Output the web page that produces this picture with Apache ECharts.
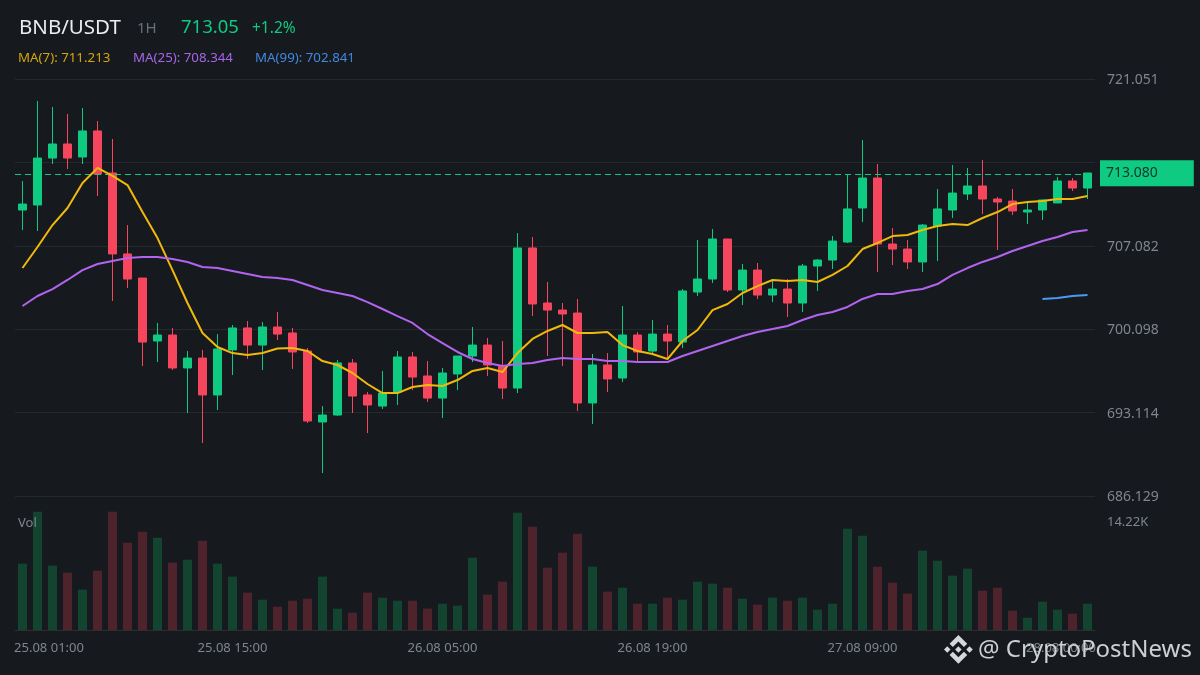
<!DOCTYPE html>
<html>
<head>
<meta charset="utf-8">
<style>html,body{margin:0;padding:0;background:#161a1e}#c{width:1200px;height:675px}</style>
<script src="https://cdn.jsdelivr.net/npm/echarts@6/dist/echarts.min.js"></script>
</head>
<body>
<div id="c"></div>
<script>
const xLabelsShown = {0:'25.08 01:00',14:'25.08 15:00',28:'26.08 05:00',42:'26.08 19:00',56:'27.08 09:00',70:'28.08 00:00'};
const priceTicks = [686.129,693.114,700.098,707.082,714.067,721.051];
const priceLabels = [686.129,693.114,700.098,707.082,721.051];
const volTicks = [14.22];
const lastPrice = 713.08;
// [open, close, low, high]
const candles = [
[710.08,710.58,708.40,712.51],[710.50,714.43,708.32,719.21],[714.43,715.61,713.93,718.71],[715.61,714.43,713.51,718.12],
[714.52,716.70,713.93,718.62],[716.70,713.09,711.25,717.53],[713.18,706.40,702.46,716.03],[706.40,704.30,703.55,708.82],
[704.38,699.02,697.01,704.38],[699.11,699.61,697.35,700.62],[699.61,696.85,696.68,700.20],[696.85,697.68,693.08,698.27],
[697.68,694.59,690.57,698.36],[694.59,698.44,693.33,699.69],[698.36,700.20,696.26,700.45],[700.20,698.77,697.60,700.78],
[698.77,700.28,696.68,700.70],[700.28,699.69,699.19,701.54],[699.78,698.19,696.77,700.20],[698.27,692.41,692.24,698.52],
[692.33,692.91,688.05,693.66],[692.91,697.27,692.83,697.52],[697.27,694.50,693.08,697.60],[694.59,693.75,691.40,694.84],
[693.66,694.75,693.41,696.60],[694.84,697.77,693.75,698.27],[697.77,696.09,695.00,698.19],[696.18,694.33,694.00,697.43],
[694.33,696.43,692.66,696.85],[696.35,697.85,695.00,697.85],[697.85,698.77,697.35,700.28],[698.77,697.10,696.18,699.36],
[697.01,695.17,694.25,699.11],[695.17,706.90,694.75,708.15],[706.90,702.21,701.20,707.82],[702.29,701.70,697.85,704.05],
[701.70,701.37,697.01,702.29],[701.45,693.92,693.25,702.63],[693.92,697.10,692.16,698.02],[697.10,695.93,694.84,698.10],
[696.01,699.61,695.67,702.04],[699.61,698.19,697.43,699.86],[698.27,699.69,697.94,700.87],[699.69,699.11,697.68,700.45],
[699.02,703.30,698.52,703.46],[703.21,704.30,702.88,707.57],[704.30,707.65,703.97,708.49],[707.65,703.38,703.21,707.65],
[703.38,705.05,702.12,705.56],[705.05,702.96,702.63,705.64],[702.96,703.46,702.37,704.22],[703.46,702.29,701.12,704.30],
[702.29,705.39,701.54,705.56],[705.39,705.89,703.30,705.98],[705.89,707.48,705.14,707.90],[707.40,710.17,707.32,713.09],
[710.25,712.76,709.07,715.94],[712.76,707.23,704.89,713.93],[707.23,706.81,705.47,708.57],[706.81,705.73,705.14,707.57],
[705.73,708.82,704.89,708.91],[708.74,710.17,705.81,711.84],[710.08,711.50,709.41,713.85],[711.42,712.09,710.92,713.60],
[712.09,711.00,709.74,714.27],[711.00,710.75,706.73,711.17],[710.83,710.00,709.66,711.84],[709.91,710.08,708.91,710.67],
[710.08,710.92,709.24,710.92],[710.67,712.51,710.67,712.84],[712.51,711.92,711.67,712.76],[711.92,713.18,711.00,713.18]
];
const ma7 = [705.22,706.98,708.82,710.25,712.34,713.60,712.93,712.17,709.91,707.73,705.05,702.29,699.78,698.61,698.10,697.94,698.10,698.48,698.52,698.27,697.43,697.10,696.43,695.51,694.75,694.75,
695.26,695.42,695.34,695.84,696.60,696.85,696.51,698.10,699.28,699.95,700.45,699.78,699.78,699.86,698.77,698.27,698.02,697.60,699.11,700.03,701.70,702.21,703.13,
703.71,704.22,704.13,704.22,704.05,704.64,705.39,706.81,707.32,707.90,707.99,708.40,708.74,708.91,708.82,709.41,709.91,710.58,710.75,710.83,711.00,711.00,711.25];
const ma25 = [702.04,702.88,703.46,704.22,705.05,705.56,705.81,706.06,706.14,706.14,705.98,705.73,705.31,705.22,704.97,704.72,704.47,704.38,704.22,703.80,703.38,703.13,702.88,702.37,701.79,701.20,
700.62,699.69,698.94,698.19,697.60,697.27,697.01,697.18,697.27,697.52,697.68,697.60,697.60,697.43,697.43,697.35,697.35,697.35,697.85,698.27,698.69,699.11,699.53,
699.86,700.11,700.37,700.87,701.29,701.54,701.96,702.63,703.05,703.05,703.30,703.46,703.88,704.64,705.22,705.73,706.14,706.65,707.07,707.48,707.82,708.24,708.40];
const ma99Tail = [702.63,702.71,702.88,702.96];
const volumes = [8.58,15.30,8.32,7.41,5.22,7.67,15.30,11.29,12.71,11.94,8.71,9.09,11.55,8.58,6.90,4.83,3.92,3.02,3.79,4.05,6.90,2.76,2.24,4.83,4.18,3.79,
3.79,2.76,3.40,3.15,9.35,4.57,6.25,15.17,13.36,8.06,10.00,12.46,8.19,4.96,5.47,3.40,3.40,4.18,3.92,6.25,5.99,5.47,4.05,3.28,4.18,3.79,
4.18,2.63,3.40,13.10,12.20,8.19,6.12,4.70,10.26,8.96,7.03,7.93,5.09,5.47,2.50,1.59,3.66,2.63,2.11,3.40];

const categories = candles.map((_, i) => String(i));
const ma99 = candles.map((_, i) => i >= candles.length - ma99Tail.length ? ma99Tail[i - (candles.length - ma99Tail.length)] : null);

const UP='#0ecb81', DOWN='#f6465d', UPV='#134430', DOWNV='#4e232b', GRID='#25282c', AXIS='#80858e';
const FONT='"Noto Sans","Open Sans",sans-serif';
const chart = echarts.init(document.getElementById('c'), null, {renderer:'canvas'});
const text = (x,y,t,size,color) => ({type:'text',x,y,z:100,silent:true,style:{text:t,fontSize:size,fontFamily:FONT,fill:color,verticalAlign:'middle'}});
const logoParts = [
  [[12,0],[19.35,7.34],[16.63,10.05],[12,5.42],[7.35,10.08],[4.64,7.36]],
  [[16.62,13.92],[19.34,16.64],[11.99,23.99],[4.64,16.64],[7.35,13.92],[11.99,18.58]],
  [[12,9.28],[14.7,12],[12,14.7],[9.27,12]],
  [[2.72,9.28],[5.41,12],[2.72,14.69],[0,12]],
  [[21.26,9.28],[24,12],[21.28,14.72],[18.57,12]]
];
chart.setOption({
  animation:false,
  backgroundColor:'#161a1e',
  grid:[{left:15,width:1080,top:79,height:417},{left:15,width:1080,top:500,height:130}],
  xAxis:[
    {type:'category',gridIndex:0,data:categories,axisLine:{show:false},axisTick:{show:false},axisLabel:{show:false},splitLine:{show:false}},
    {type:'category',gridIndex:1,data:categories,axisLine:{show:true,lineStyle:{color:'#2a2e33',width:1}},axisTick:{show:false},splitLine:{show:false},
     axisLabel:{interval:0,hideOverlap:false,margin:12,color:AXIS,fontSize:13,fontFamily:FONT,
       formatter:(v)=>{const s=xLabelsShown[v];if(!s)return '';
         if(v==='0')return '{l|'+s+'}'; if(v==='70')return '{r|'+s+'}'; return s;},
       rich:{l:{padding:[0,0,0,53],color:AXIS,fontSize:13,fontFamily:FONT},r:{padding:[0,23,0,0],color:AXIS,fontSize:13,fontFamily:FONT}}}}
  ],
  yAxis:[
    {type:'value',gridIndex:0,min:686.129,max:721.051,position:'right',scale:true,axisLine:{show:false},
     axisTick:{show:false,customValues:priceTicks},
     axisLabel:{customValues:priceLabels,margin:12,color:AXIS,fontSize:14,fontFamily:FONT,formatter:v=>'{a|'+v.toFixed(3)+'}',
       rich:{a:{padding:[2,0,0,0],color:AXIS,fontSize:14,fontFamily:FONT}}},
     splitLine:{show:true,lineStyle:{color:GRID,width:1}}},
    {type:'value',gridIndex:1,min:0,max:16.81,position:'right',axisLine:{show:false},
     axisTick:{show:false,customValues:volTicks},
     axisLabel:{customValues:volTicks,margin:12,color:AXIS,fontSize:13,fontFamily:FONT,formatter:v=>'{a|'+v.toFixed(2)+'K}',
       rich:{a:{padding:[4,0,0,0],color:AXIS,fontSize:13,fontFamily:FONT}}},
     splitLine:{show:false}}
  ],
  series:[
    {type:'candlestick',name:'BNB/USDT',xAxisIndex:0,yAxisIndex:0,data:candles,barWidth:8,
     itemStyle:{color:UP,color0:DOWN,borderColor:UP,borderColor0:DOWN,borderWidth:1},
     markLine:{silent:true,symbol:'none',animation:false,
       lineStyle:{color:UP,type:[6,4],width:1},
       label:{show:true,position:'end',distance:5,offset:[0,-1],formatter:p=>p.value.toFixed(3),color:'#12352a',fontSize:14,fontFamily:FONT,backgroundColor:UP,padding:[7,36,5,6]},
       data:[{yAxis:lastPrice}]}},
    {type:'line',name:'MA(7)',xAxisIndex:0,yAxisIndex:0,data:ma7,showSymbol:false,symbol:'none',lineStyle:{color:'#f0b90b',width:2},z:5},
    {type:'line',name:'MA(25)',xAxisIndex:0,yAxisIndex:0,data:ma25,showSymbol:false,symbol:'none',lineStyle:{color:'#b264f0',width:2},z:5},
    {type:'line',name:'MA(99)',xAxisIndex:0,yAxisIndex:0,data:ma99,showSymbol:false,symbol:'none',lineStyle:{color:'#4a9af5',width:2},z:5},
    {type:'bar',name:'Vol',xAxisIndex:1,yAxisIndex:1,barWidth:9,
     data:volumes.map((v,i)=>({value:v,itemStyle:{color:candles[i][1]>candles[i][0]?UPV:DOWNV}}))}
  ],
  graphic:[
    text(19,28,'BNB/USDT',20.5,'#eaecef'),
    text(137,29,'1H',15,'#6b7078'),
    text(181,28,'713.05',18.5,UP),
    text(252,29,'+1.2%',15.5,UP),
    text(18,58,'MA(7): 711.213',13.3,'#d4a50c'),
    text(133,58,'MA(25): 708.344',13.3,'#a864e8'),
    text(255,58,'MA(99): 702.841',13.3,'#4287e0'),
    text(18,523,'Vol',13,AXIS),
    {type:'group',x:944,y:635,scaleX:1.2,scaleY:1.2,z:100,silent:true,
     children:logoParts.map(p=>({type:'polygon',silent:true,z:100,shape:{points:p},style:{fill:'#d6d9dc'}}))},
    {type:'text',x:978,y:650,silent:true,z:100,style:{text:'@ CryptoPostNews',fontSize:24,fontFamily:FONT,fill:'#ccd0d3',verticalAlign:'middle'}}
  ]
});
</script>
</body>
</html>
